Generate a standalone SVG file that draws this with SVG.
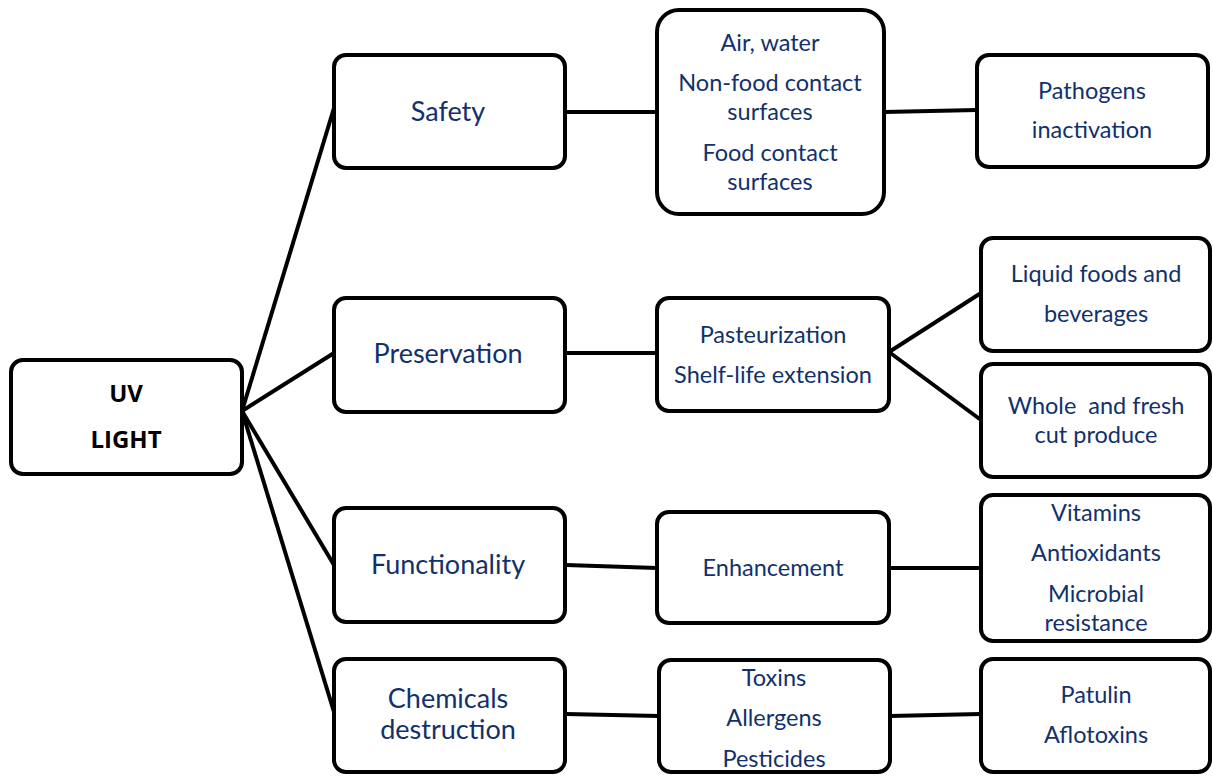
<svg xmlns="http://www.w3.org/2000/svg" width="1213" height="780" viewBox="0 0 1213 780">
<style>
.box{fill:#fff;stroke:#000;stroke-width:4}
.t{font-family:Lato,"Liberation Sans",sans-serif;fill:#12316B;text-anchor:middle;font-size:23.5px}
.l{font-size:27px}
.b{font-family:"Open Sans","Liberation Sans",sans-serif;font-weight:bold;fill:#000;text-anchor:middle;font-size:24px}
.c{stroke:#000;stroke-width:4;fill:none}
</style>
<rect width="1213" height="780" fill="#fff"/>
<g id="connectors">
<line class="c" x1="242" y1="411" x2="334" y2="108"/>
<line class="c" x1="242" y1="411" x2="334" y2="353"/>
<line class="c" x1="242" y1="411" x2="334" y2="565"/>
<line class="c" x1="242" y1="411" x2="334" y2="712"/>
<line class="c" x1="566" y1="112" x2="657" y2="112"/>
<line class="c" x1="884" y1="112" x2="977" y2="110"/>
<line class="c" x1="566" y1="353" x2="657" y2="353"/>
<line class="c" x1="889" y1="352" x2="981" y2="293"/>
<line class="c" x1="889" y1="352" x2="981" y2="420"/>
<line class="c" x1="566" y1="565" x2="657" y2="568"/>
<line class="c" x1="889" y1="568" x2="981" y2="568"/>
<line class="c" x1="566" y1="714" x2="659" y2="716"/>
<line class="c" x1="890" y1="716" x2="981" y2="714"/>
</g>
<g id="uv"><rect class="box" x="11" y="360" width="231" height="114" rx="12"/><text class="b" x="126" y="402">UV</text><text class="b" x="126" y="448">LIGHT</text></g>
<g id="safety"><rect class="box" x="334" y="55" width="231" height="113" rx="12"/><text class="t l" x="448" y="121">Safety</text></g>
<g id="preservation"><rect class="box" x="334" y="298" width="231" height="114" rx="12"/><text class="t l" x="448" y="363">Preservation</text></g>
<g id="functionality"><rect class="box" x="334" y="508" width="231" height="114" rx="12"/><text class="t l" x="448" y="574">Functionality</text></g>
<g id="chemicals"><rect class="box" x="334" y="659" width="231" height="113" rx="12"/><text class="t l" x="448" y="708">Chemicals</text><text class="t l" x="448" y="739">destruction</text></g>
<g id="surfaces"><rect class="box" x="657" y="10" width="227" height="204" rx="22"/><text class="t" x="770" y="51">Air, water</text><text class="t" x="770" y="91">Non-food contact</text><text class="t" x="770" y="120">surfaces</text><text class="t" x="770" y="161">Food contact</text><text class="t" x="770" y="190">surfaces</text></g>
<g id="pasteurization"><rect class="box" x="657" y="298" width="232" height="113" rx="12"/><text class="t" x="773" y="343">Pasteurization</text><text class="t" x="773" y="383">Shelf-life extension</text></g>
<g id="enhancement"><rect class="box" x="657" y="512" width="232" height="111" rx="12"/><text class="t" x="773" y="576">Enhancement</text></g>
<g id="toxins"><rect class="box" x="659" y="660" width="231" height="112" rx="12"/><text class="t" x="774" y="686">Toxins</text><text class="t" x="774" y="726">Allergens</text><text class="t" x="774" y="767">Pesticides</text></g>
<g id="pathogens"><rect class="box" x="977" y="55" width="231" height="112" rx="12"/><text class="t" x="1092" y="99">Pathogens</text><text class="t" x="1092" y="138">inactivation</text></g>
<g id="liquid"><rect class="box" x="981" y="238" width="229" height="113" rx="12"/><text class="t" x="1096" y="282">Liquid foods and</text><text class="t" x="1096" y="322">beverages</text></g>
<g id="produce"><rect class="box" x="981" y="364" width="229" height="113" rx="12"/><text class="t" x="1096" y="414" xml:space="preserve">Whole  and fresh</text><text class="t" x="1096" y="443">cut produce</text></g>
<g id="vitamins"><rect class="box" x="981" y="495" width="229" height="146" rx="12"/><text class="t" x="1096" y="521">Vitamins</text><text class="t" x="1096" y="561">Antioxidants</text><text class="t" x="1096" y="602">Microbial</text><text class="t" x="1096" y="631">resistance</text></g>
<g id="patulin"><rect class="box" x="981" y="659" width="229" height="113" rx="12"/><text class="t" x="1096" y="703">Patulin</text><text class="t" x="1096" y="743">Aflotoxins</text></g>
</svg>
